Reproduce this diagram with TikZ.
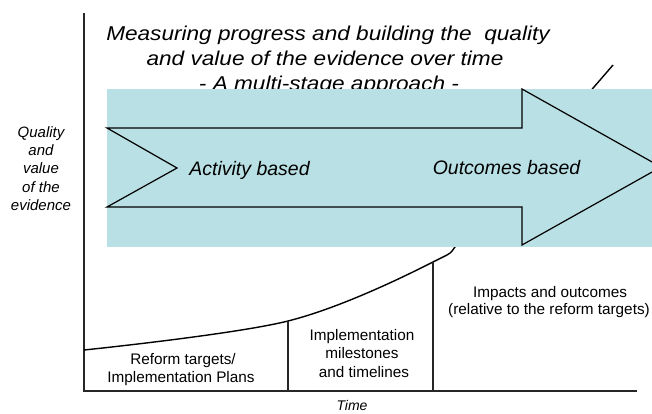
\documentclass[tikz,border=0pt]{standalone}
\usepackage{fontspec}
\setmainfont{Liberation Sans}
\newfontfamily\titlefont[FakeStretch=1.13]{Liberation Sans}
\definecolor{bandteal}{RGB}{185,224,228}
\begin{document}
\begin{tikzpicture}[x=1pt,y=-1pt,
  lbl/.style={inner sep=0pt, anchor=base},
  titletxt/.style={lbl, font=\titlefont\itshape\fontsize{20}{25}\selectfont},
  arrowtxt/.style={lbl, font=\itshape\fontsize{19.5}{23}\selectfont},
  ylabtxt/.style={lbl, font=\itshape\fontsize{15}{18}\selectfont},
  stagetxt/.style={lbl, font=\fontsize{15.3}{18}\selectfont},
  axisline/.style={line width=1.5pt, black!85},
  curveline/.style={line width=1.4pt, black},
  arrowline/.style={line width=1.2pt, black, fill=bandteal}]
\clip (0,0) rectangle (652,413);
\fill[white] (0,0) rectangle (652,413);
% axes
\coordinate (ytop) at (84,13);
\coordinate (orig) at (84,391);
\coordinate (xend) at (637,391);
\draw[axisline] (ytop) -- (orig) -- (xend);
% growth curve
\coordinate (c0) at (84,350);
\coordinate (c1) at (288,321);
\coordinate (c2) at (433,262);
\coordinate (c3) at (470,229);
\coordinate (c4) at (613,65);
\draw[curveline] plot[smooth, tension=0.55] coordinates {(c0) (c1) (c2) (c3) (c4)};
\coordinate (b1) at (288,391);
\coordinate (b2) at (433,391);
\draw[axisline] (b1) -- (c1);
\draw[axisline] (b2) -- (c2);
% title
\node[titletxt] (t1) at (328,40) {Measuring progress and building the\ \ quality};
\node[titletxt] (t2) at (325,65.5) {and value of the evidence over time};
\node[titletxt] (t3) at (329,90.5) {- A multi-stage approach -};
% band
\fill[bandteal] (107,89) rectangle (652,247);
% arrow
\coordinate (a1) at (107,128);
\coordinate (a2) at (522,128);
\coordinate (a3) at (522,89);
\coordinate (a4) at (661,167);
\coordinate (a5) at (522,245);
\coordinate (a6) at (522,207);
\coordinate (a7) at (107,207);
\coordinate (a8) at (177,168);
\draw[arrowline] (a1) -- (a2) -- (a3) -- (a4) -- (a5) -- (a6) -- (a7) -- (a8) -- cycle;
\node[arrowtxt] (act) at (249.5,175) {Activity based};
\node[arrowtxt] (out) at (506.5,174) {Outcomes based};
% y label
\node[ylabtxt] (y1) at (41,137) {Quality};
\node[ylabtxt] (y2) at (41,155) {and};
\node[ylabtxt] (y3) at (41,173) {value};
\node[ylabtxt] (y4) at (41,192) {of the};
\node[ylabtxt] (y5) at (41,210) {evidence};
% x label
\node[lbl, font=\itshape\fontsize{14}{16}\selectfont] (time) at (352,410) {Time};
% stage labels
\node[stagetxt] (s1a) at (183,364) {Reform targets/};
\node[stagetxt] (s1b) at (181,382) {Implementation Plans};
\node[stagetxt] (s2a) at (362,340) {Implementation};
\node[stagetxt] (s2b) at (362,358) {milestones};
\node[stagetxt] (s2c) at (364,377) {and timelines};
\node[stagetxt] (s3a) at (550,297) {Impacts and outcomes};
\node[stagetxt] (s3b) at (549,314) {(relative to the reform targets)};
\end{tikzpicture}
\end{document}
